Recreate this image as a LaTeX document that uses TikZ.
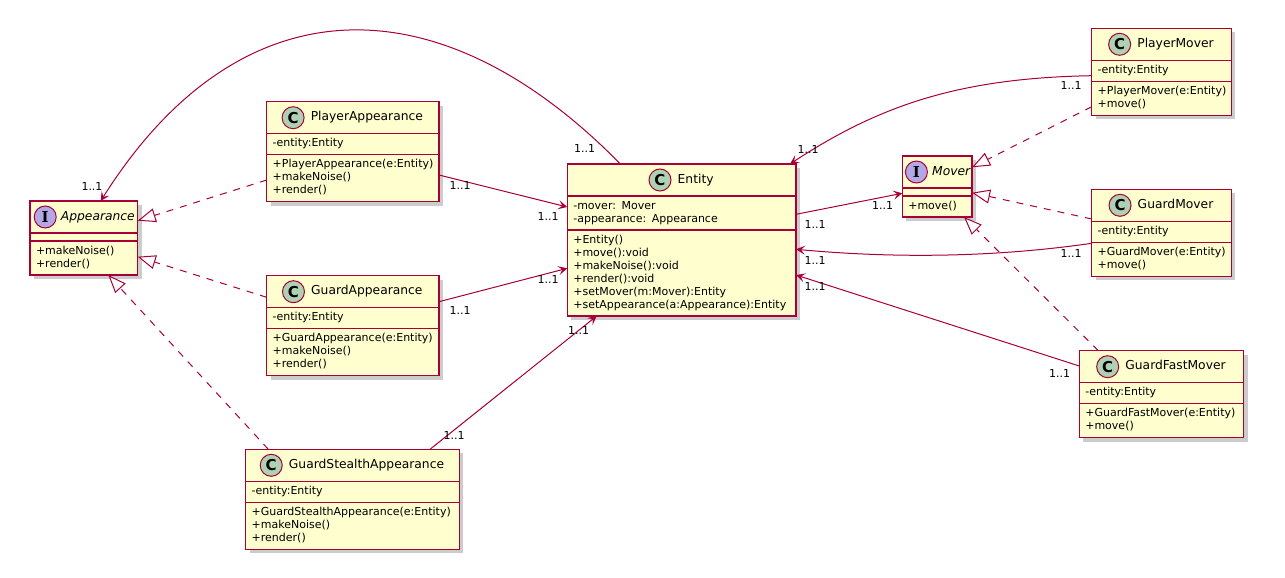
\documentclass[tikz,border=0pt]{standalone}
\usepackage{fontspec}
\setmainfont{DejaVu Sans}
\newfontfamily\iconserif{DejaVu Serif}
\usetikzlibrary{arrows.meta,positioning,calc,fit,backgrounds,shadows}

\definecolor{umlred}{HTML}{A80036}
\definecolor{umlfill}{HTML}{FEFECE}
\definecolor{umlclass}{HTML}{ADD1B2}
\definecolor{umliface}{HTML}{B4A7E5}

\tikzset{
  classhead/.style={minimum height=32pt, inner sep=0pt, outer sep=0pt},
  classtitle/.style={inner sep=0pt, text height=8.8pt, text depth=2.8pt,
    font=\fontsize{12.3}{14}\selectfont},
  iconC/.style={circle, draw=umlred, line width=1pt, fill=umlclass, minimum size=22pt,
    inner sep=0pt, xshift=-6pt, font=\fontsize{15}{15}\selectfont\bfseries},
  iconI/.style={circle, draw=umlred, line width=1pt, fill=umliface, minimum size=22pt,
    inner sep=0pt, xshift=-4pt, font=\fontsize{15}{15}\iconserif\bfseries},
  members/.style={inner xsep=6pt, inner ysep=4pt, outer sep=0pt, align=left,
    font=\fontsize{11}{13}\selectfont},
  classbox/.style={draw=umlred, line width=1.5pt, fill=umlfill, inner sep=0pt, outer sep=0pt,
    drop shadow={shadow xshift=4pt, shadow yshift=-4pt, fill=black, opacity=0.2}},
  divider/.style={draw=umlred, line width=1.5pt},
  assoc/.style={draw=umlred, line width=1pt, -{Stealth[length=9pt, width=9pt, inset=4pt]}},
  realize/.style={draw=umlred, line width=1pt, dash pattern=on 7pt off 7pt,
    -{Triangle[length=18pt, width=14pt, fill=white]}},
  mult/.style={inner sep=0pt, font=\fontsize{11}{13}\selectfont},
}

% #1 name, #2 x, #3 y (top), #4 width, #5 icon letter, #6 title, #7 fields, #8 methods
\newcommand{\umlclass}[8]{%
  \pgfmathsetlengthmacro\classtw{#4-12}%
  \node[classhead, minimum width=#4pt, anchor=north west] (#1-h) at (#2,#3) {};
  \node[classtitle, label={[icon#5]left:#5}] (#1-t) at ($(#1-h.center)+(14,0)$) {#6};
  \node[members, text width=\classtw, below=0pt of #1-h] (#1-a) {\ifx&#7&\else\strut#7\strut\fi};
  \node[members, text width=\classtw, below=0pt of #1-a] (#1-m) {\strut#8\strut};
  \begin{scope}[on background layer]
    \node[classbox, fit=(#1-h)(#1-m)] (#1) {};
  \end{scope}
  \draw[divider] (#1-a.north west) -- (#1-a.north east);
  \draw[divider] (#1-m.north west) -- (#1-m.north east);
}

\begin{document}
\begin{tikzpicture}[x=1pt,y=-1pt]
  \useasboundingbox (0,0) rectangle (1285,578);

  \umlclass{appearance}{30}{201}{107.7}{I}{\itshape Appearance}{}{+makeNoise()\\+render()}
  \umlclass{pa}{266.7}{101.7}{172.3}{C}{PlayerAppearance}{-entity:Entity}{+PlayerAppearance(e:Entity)\\+makeNoise()\\+render()}
  \umlclass{ga}{266.7}{275.7}{172.3}{C}{GuardAppearance}{-entity:Entity}{+GuardAppearance(e:Entity)\\+makeNoise()\\+render()}
  \umlclass{gsa}{245.7}{449.3}{213.6}{C}{GuardStealthAppearance}{-entity:Entity}{+GuardStealthAppearance(e:Entity)\\+makeNoise()\\+render()}
  \umlclass{entity}{567.3}{164}{228.7}{C}{Entity}{-mover: Mover\\-appearance: Appearance}{+Entity()\\+move():void\\+makeNoise():void\\+render():void\\+setMover(m:Mover):Entity\\+setAppearance(a:Appearance):Entity}
  \umlclass{mover}{902.3}{156}{69.7}{I}{\itshape Mover}{}{+move()}
  \umlclass{pm}{1091.7}{28.3}{139.6}{C}{PlayerMover}{-entity:Entity}{+PlayerMover(e:Entity)\\+move()}
  \umlclass{gm}{1091.7}{189.3}{139.6}{C}{GuardMover}{-entity:Entity}{+GuardMover(e:Entity)\\+move()}
  \umlclass{gfm}{1079.3}{350.7}{164.4}{C}{GuardFastMover}{-entity:Entity}{+GuardFastMover(e:Entity)\\+move()}

  % associations
  \draw[assoc] ($(entity.north west)+(53.1,0)$) .. controls (440,-20) and (240,-20) .. ($(appearance.north west)+(70.7,0)$);
  \draw[assoc] ($(pa.north east)+(0,73.3)$) -- ($(entity.north west)+(0,43)$);
  \draw[assoc] ($(ga.north east)+(0,26)$) -- ($(entity.north west)+(0,104.3)$);
  \draw[assoc] ($(gsa.north west)+(184.3,0)$) -- ($(entity.south west)+(29.4,0)$);
  \draw[assoc] ($(entity.north east)+(0,50.3)$) -- ($(mover.north west)+(0,37.3)$);
  \draw[assoc] ($(pm.north west)+(0,47.4)$) .. controls (960,78) and (880,105) .. ($(entity.north east)+(-6,0)$);
  \draw[assoc] ($(gm.north west)+(0,54)$) .. controls (990,258) and (890,258) .. ($(entity.north east)+(0,85.3)$);
  \draw[assoc] ($(gfm.north west)+(0,15.3)$) -- ($(entity.north east)+(0,111)$);

  % realizations
  \draw[realize] ($(pa.north west)+(0,78.3)$) -- ($(appearance.north east)+(0,19.7)$);
  \draw[realize] ($(ga.north west)+(0,21.6)$) -- ($(appearance.north east)+(0,55.7)$);
  \draw[realize] ($(gsa.north west)+(22.6,0)$) -- ($(appearance.south west)+(78.3,0)$);
  \draw[realize] ($(pm.north west)+(0,78.4)$) -- ($(mover.north east)+(0,11.3)$);
  \draw[realize] ($(gm.north west)+(0,29.7)$) -- ($(mover.north east)+(0,36.7)$);
  \draw[realize] ($(gfm.north west)+(19,0)$) -- ($(mover.south west)+(61.7,0)$);

  % multiplicities
  \foreach \x/\y [count=\i] in {584.5/148, 92/186.7, 460/185.7, 548/216, 460/310, 548/279,
      454/435, 578.5/330.7, 815/224, 882.5/205, 1071/85.7, 808/149, 1071/253.3, 815/260,
      1059.5/373.3, 815/286.7}
    \node[mult] (m\i) at (\x,\y) {1..1};
\end{tikzpicture}
\end{document}
